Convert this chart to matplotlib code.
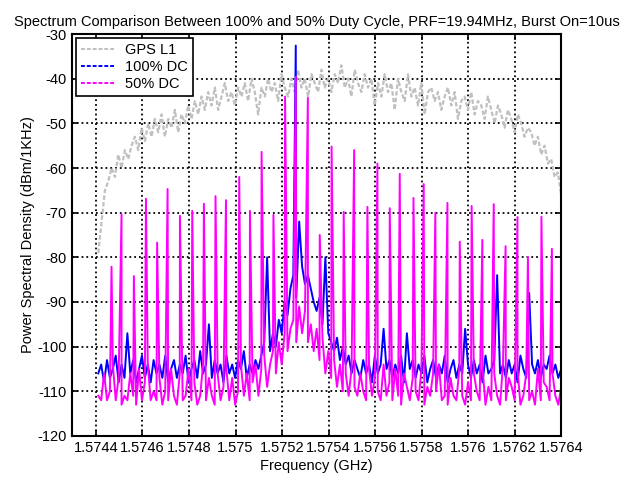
import numpy as np
import matplotlib
matplotlib.use("Agg")
import matplotlib.pyplot as plt
from matplotlib.lines import Line2D

plt.rcParams["font.family"] = ["Liberation Sans", "DejaVu Sans"]
plt.rcParams["axes.unicode_minus"] = False

# frequency span of the captured traces (GHz)
f_start, f_stop = 1.57441, 1.57640

# GPS L1 reference trace (dBm/1KHz)
gps_l1 = [
    -79, -72, -65, -63, -60, -62, -57, -60, -56, -58,
    -55, -53, -56, -51, -54, -50, -53, -49, -52, -48,
    -53, -49, -51, -47, -52, -48, -50, -46, -49, -45,
    -48, -44, -47, -43, -46, -42, -47, -44, -41, -45,
    -43, -46, -42, -44, -41, -45, -40, -43, -48, -42,
    -44, -40, -43, -41, -45, -39, -42, -44, -40, -43,
    -38, -42, -40, -44, -39, -41, -43, -38, -42, -40,
    -43, -39, -41, -37, -42, -40, -44, -38, -41, -43,
    -39, -42, -40, -46, -41, -44, -39, -43, -41, -47,
    -40, -43, -45, -39, -44, -42, -46, -41, -48, -43,
    -42, -45, -43, -47, -44, -42, -46, -43, -49, -45,
    -44, -47, -43, -48, -45, -46, -49, -44, -47, -50,
    -46, -48, -51, -47, -49, -52, -48, -50, -53, -51,
    -52, -55, -53, -57, -55, -59, -58, -62, -61, -66,
]

# 100% duty cycle trace
dc100 = [
    -106, -104, -108, -103, -107, -105, -102, -108, -104, -107,
    -97, -106, -103, -108, -105, -102, -107, -104, -108, -103,
    -106, -104, -107, -102, -108, -105, -103, -107, -104, -106,
    -102, -108, -105, -103, -107, -101, -106, -104, -95, -107,
    -103, -106, -104, -108, -102, -106, -104, -107, -103, -105,
    -101, -107, -104, -106, -103, -105, -102, -99, -80, -101,
    -97, -100, -94, -97, -90, -93, -87, -84, -89, -72,
    -82, -86, -84, -87, -90, -92, -89, -95, -80, -97,
    -99, -101, -98, -103, -100, -104, -102, -106, -103, -105,
    -107, -103, -106, -104, -108, -102, -106, -104, -96, -105,
    -103, -107, -104, -106, -102, -108, -97, -105, -103, -107,
    -104, -106, -102, -108, -105, -103, -107, -104, -106, -102,
    -108, -105, -103, -107, -104, -106, -96, -104, -107, -103,
    -106, -104, -108, -102, -106, -105, -103, -84, -106, -104,
    -107, -103, -106, -104, -108, -102, -105, -107, -88, -104,
    -106, -103, -107, -104, -105, -102, -106, -104, -107, -105,
]
dc100_carrier_f = 1.575259
dc100_carrier_db = -32.6

# 50% duty cycle: noise floor plus the PRF comb lines
dc50_floor = [
    -111, -112, -106, -112, -110, -104, -112, -107, -113, -111,
    -112, -106, -111, -113, -105, -112, -108, -104, -112, -110,
    -112, -107, -113, -110, -112, -105, -111, -113, -106, -112,
    -111, -105, -112, -108, -113, -111, -104, -112, -107, -111,
    -113, -106, -112, -109, -105, -112, -107, -113, -110, -104,
    -111, -106, -112, -108, -104, -111, -105, -102, -109, -104,
    -101, -106, -99, -104, -97, -101, -96, -94, -99, -91,
    -97, -92, -99, -95, -101, -96, -103, -98, -106, -101,
    -107, -103, -109, -104, -110, -106, -111, -105, -109, -111,
    -106, -110, -112, -105, -111, -107, -110, -112, -104, -111,
    -108, -112, -105, -111, -113, -106, -109, -112, -107, -110,
    -112, -105, -113, -109, -111, -106, -110, -104, -112, -111,
    -113, -107, -111, -112, -105, -111, -113, -108, -112, -106,
    -110, -112, -105, -113, -109, -112, -106, -111, -113, -104,
    -112, -107, -109, -112, -105, -113, -111, -106, -112, -110,
    -113, -105, -112, -108, -109, -112, -106, -111, -113, -109,
]
comb_f = [
    1.574467, 1.574510, 1.574563, 1.574615, 1.574663, 1.574708, 1.574761,
    1.574814, 1.574864, 1.574914, 1.574959, 1.575016, 1.575062, 1.575112,
    1.575163, 1.575213, 1.575259, 1.575311, 1.575362, 1.575413, 1.575465,
    1.575510, 1.575567, 1.575610, 1.575663, 1.575706, 1.575765, 1.575809,
    1.575859, 1.575911, 1.575964, 1.576015, 1.576061, 1.576110, 1.576161,
    1.576212, 1.576257, 1.576315, 1.576360,
]
comb_db = [
    -82.1, -70.3, -84.2, -66.9, -76.7, -64.7, -70.7,
    -69.6, -68.0, -66.3, -67.2, -62.0, -69.6, -56.4,
    -70.5, -44.0, -39.6, -44.3, -75.0, -55.2, -69.8,
    -56.0, -68.7, -59.0, -69.0, -61.3, -66.7, -63.6,
    -70.0, -67.8, -76.5, -68.5, -76.1, -68.1, -77.5,
    -71.0, -79.9, -70.9, -78.1,
]

f_gps = np.linspace(f_start, f_stop, len(gps_l1))
f_100 = np.linspace(f_start, f_stop, len(dc100))
f_50 = np.linspace(f_start, f_stop, len(dc50_floor))

# merge the carrier spike into the 100% trace
f100_all = np.concatenate([f_100, [dc100_carrier_f]])
p100_all = np.concatenate([dc100, [dc100_carrier_db]])
order = np.argsort(f100_all)
f100_all, p100_all = f100_all[order], p100_all[order]

# merge comb lines into the 50% floor
f50_all = np.concatenate([f_50, comb_f])
p50_all = np.concatenate([dc50_floor, comb_db])
order = np.argsort(f50_all)
f50_all, p50_all = f50_all[order], p50_all[order]

fig = plt.figure(figsize=(6.37, 4.79), dpi=100)
ax = fig.add_axes([0.113, 0.0898, 0.768, 0.8392])

ax.plot(f_gps, gps_l1, color="#c0c0c0", linewidth=1.6, dashes=(2, 1))
ax.plot(f100_all, p100_all, color="#0000ff", linewidth=1.4)
ax.plot(f50_all, p50_all, color="#ff00ff", linewidth=1.4)

ax.set_xlim(1.574297, 1.5764)
ax.set_ylim(-120, -30)
xt = np.arange(1.5744, 1.57641, 0.0002)
ax.set_xticks(xt)
ax.set_xticklabels(["%g" % round(v, 4) for v in xt])
ax.set_yticks(np.arange(-120, -29, 10))

ax.grid(True, color="black", linestyle=":", linewidth=1.3)
ax.tick_params(direction="in", top=True, right=True, length=4, width=1.2,
               labelsize=10.5, colors="black")
for sp in ax.spines.values():
    sp.set_linewidth(1.5)

ax.set_xlabel("Frequency (GHz)", fontsize=10.5, labelpad=3)
ax.set_ylabel("Power Spectral Density (dBm/1KHz)", fontsize=10.5, labelpad=2)
ax.set_title("Spectrum Comparison Between 100% and 50% Duty Cycle, PRF=19.94MHz, Burst On=10us",
             fontsize=10.5, pad=6)

handles = [
    Line2D([], [], color="#c0c0c0", linewidth=1.4, dashes=(2, 1)),
    Line2D([], [], color="#0000ff", linewidth=1.4, dashes=(2, 1)),
    Line2D([], [], color="#ff00ff", linewidth=1.4, dashes=(2, 1)),
]
leg = ax.legend(handles, ["GPS L1", "100% DC", "50% DC"], loc="upper left",
                fontsize=10.5, frameon=True, fancybox=False, edgecolor="black",
                framealpha=1, borderaxespad=0.3, handlelength=2.2,
                labelspacing=0.2, borderpad=0.35)
leg.get_frame().set_linewidth(1.2)

fig.savefig("out.png", dpi=100)
